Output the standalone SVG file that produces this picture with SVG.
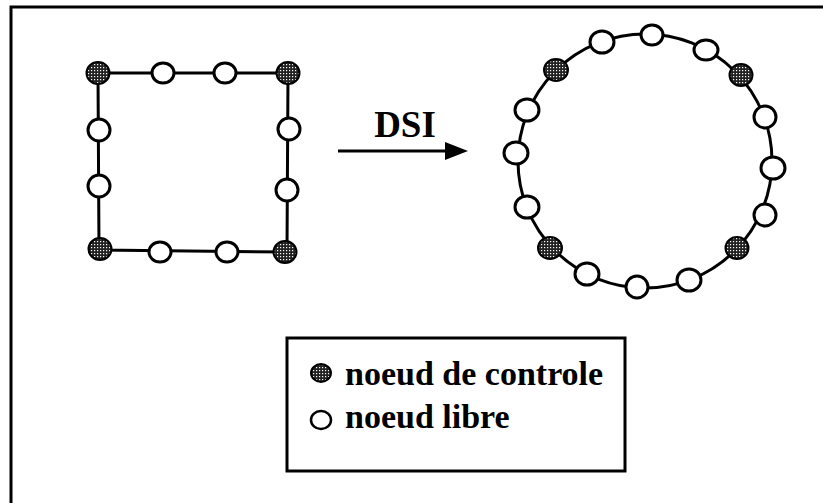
<svg xmlns="http://www.w3.org/2000/svg" width="823" height="503" viewBox="0 0 823 503">
<defs>
<pattern id="stip" width="3" height="3" patternUnits="userSpaceOnUse">
<rect width="3" height="3" fill="#222"/>
<rect x="1" y="1" width="1.2" height="1.2" fill="#fff"/>
</pattern>
<style>
.ctl{fill:url(#stip);stroke:#000;stroke-width:2}
.free{fill:#fff;stroke:#000;stroke-width:3}
.edge{fill:none;stroke:#000;stroke-width:3}
.lbl{font-family:"Liberation Serif","Times New Roman",serif;font-weight:bold;fill:#000}
</style>
</defs>
<rect width="823" height="503" fill="#fff"/>
<g id="frame" fill="none" stroke="#000" stroke-width="3">
<path d="M11,503 L11,7 L823,7"/>
</g>
<g id="connectors">
<path class="edge" d="M98,73 L288,73 L287,252 L99,250 Z"/>
<circle class="edge" cx="645" cy="161" r="127"/>
<line x1="338" y1="151" x2="450" y2="151" stroke="#000" stroke-width="3"/>
<path d="M445,142 L468,151 L445,160 Z" fill="#000"/>
</g>
<text id="dsi" class="lbl" x="405" y="137" font-size="37" text-anchor="middle">DSI</text>
<g id="square">
<ellipse id="s1" class="ctl" cx="98" cy="73" rx="11.5" ry="11"/>
<ellipse id="s2" class="free" cx="163" cy="73" rx="11" ry="10"/>
<ellipse id="s3" class="free" cx="225" cy="73" rx="11" ry="10"/>
<ellipse id="s4" class="ctl" cx="288" cy="73" rx="11.5" ry="11"/>
<ellipse id="s5" class="free" cx="99" cy="130" rx="11" ry="11"/>
<ellipse id="s6" class="free" cx="99" cy="186" rx="11" ry="11"/>
<ellipse id="s7" class="free" cx="289" cy="129" rx="11" ry="11"/>
<ellipse id="s8" class="free" cx="287" cy="190" rx="11" ry="11"/>
<ellipse id="s9" class="ctl" cx="100" cy="249" rx="11.5" ry="11"/>
<ellipse id="s10" class="free" cx="160" cy="252" rx="11" ry="10"/>
<ellipse id="s11" class="free" cx="227" cy="252" rx="11" ry="10"/>
<ellipse id="s12" class="ctl" cx="285" cy="252" rx="11.5" ry="11"/>
</g>
<g id="circle">
<ellipse id="c1" class="free" cx="652" cy="35" rx="11" ry="10"/>
<ellipse id="c2" class="free" cx="602" cy="42" rx="12" ry="11"/>
<ellipse id="c3" class="free" cx="706" cy="50" rx="12" ry="10"/>
<ellipse id="c4" class="ctl" cx="556" cy="70" rx="12" ry="11"/>
<ellipse id="c5" class="ctl" cx="741" cy="75" rx="11.5" ry="11"/>
<ellipse id="c6" class="free" cx="527" cy="110" rx="12" ry="11"/>
<ellipse id="c7" class="free" cx="765" cy="117" rx="11" ry="11"/>
<ellipse id="c8" class="free" cx="516" cy="153" rx="12" ry="11"/>
<ellipse id="c9" class="free" cx="773" cy="168" rx="12" ry="11"/>
<ellipse id="c10" class="free" cx="527" cy="207" rx="12" ry="11"/>
<ellipse id="c11" class="free" cx="765" cy="215" rx="11" ry="11"/>
<ellipse id="c12" class="ctl" cx="550" cy="248" rx="12" ry="11"/>
<ellipse id="c13" class="ctl" cx="737" cy="248" rx="11.5" ry="11"/>
<ellipse id="c14" class="free" cx="587" cy="274" rx="12" ry="11"/>
<ellipse id="c15" class="free" cx="637" cy="287" rx="11" ry="11"/>
<ellipse id="c16" class="free" cx="689" cy="280" rx="12" ry="11"/>
</g>
<g id="legend">
<rect x="287" y="338" width="338" height="133" fill="none" stroke="#000" stroke-width="3"/>
<ellipse class="ctl" cx="321" cy="373" rx="10" ry="9"/>
<ellipse class="free" cx="321" cy="420" rx="10" ry="9" style="stroke-width:2.5"/>
<text class="lbl" x="345" y="385" font-size="34">noeud de controle</text>
<text class="lbl" x="345" y="428" font-size="34">noeud libre</text>
</g>
</svg>
